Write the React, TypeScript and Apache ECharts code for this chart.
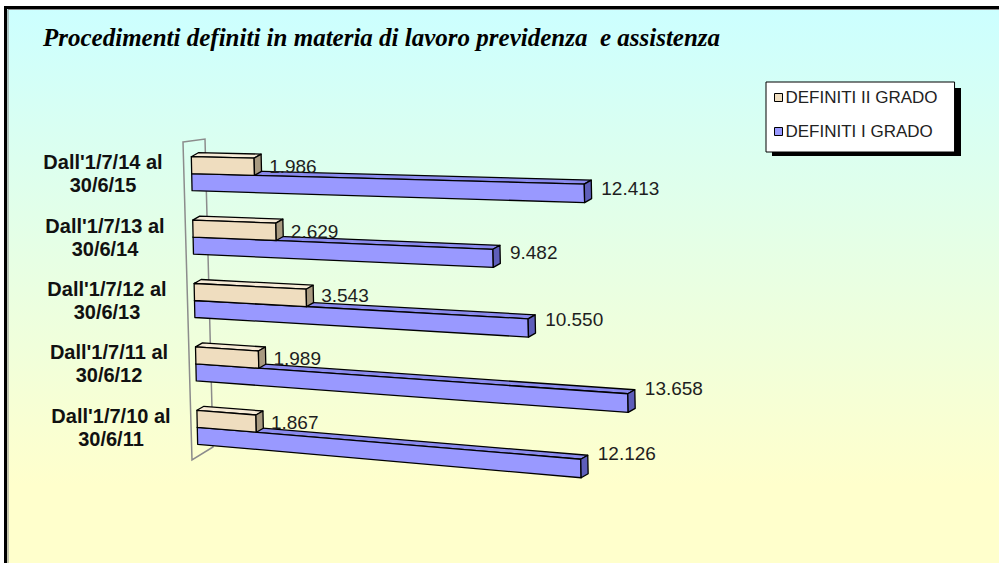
import React, { useEffect, useRef } from "react";
import * as echarts from "echarts";

// Categories from bottom to top
const categories = [
  "Dall'1/7/10 al\n30/6/11",
  "Dall'1/7/11 al\n30/6/12",
  "Dall'1/7/12 al\n30/6/13",
  "Dall'1/7/13 al\n30/6/14",
  "Dall'1/7/14 al\n30/6/15",
];
const seriesNames = ["DEFINITI II GRADO", "DEFINITI I GRADO"];
const definitiIIGrado = [1867, 1989, 3543, 2629, 1986];
const definitiIGrado = [12126, 13658, 10550, 9482, 12413];
const titleText = "Procedimenti definiti in materia di lavoro previdenza  e assistenza";

const SHEAR = 0.022;
const VYOFF = 86;
const PD = 4454;
const DEPTH: [number, number] = [7, -4];

const fmt = (v: number) => String(Math.round(v)).replace(/\B(?=(\d{3})+(?!\d))/g, ".");

function makeT(gx: number, gy: number) {
  return (x: number, y: number): [number, number] => [
    x + SHEAR * (y - gy),
    y + ((y - gy + VYOFF) * (x - gx)) / PD,
  ];
}

function barRenderer(top: number, h: number, colors: { front: string; top: string; side: string }, gap: number, dy: number) {
  return (params: any, api: any) => {
    const v = api.value(0);
    const i = api.value(1);
    const cs = params.coordSys;
    const T = makeT(cs.x, cs.y);
    const [x0, cy] = api.coord([0, i]);
    const [xe] = api.coord([v, i]);
    const y1 = cy + top;
    const y2 = y1 + h;
    const p1 = T(x0, y1);
    const p2 = T(xe, y1);
    const p3 = T(xe, y2);
    const p4 = T(x0, y2);
    const add = (p: [number, number]) => [p[0] + DEPTH[0], p[1] + DEPTH[1]];
    const stroke = { stroke: "#000", lineWidth: 1.3, lineJoin: "round" };
    const leftMid = (p1[1] + p4[1]) / 2;
    const rightMid = (p2[1] + p3[1]) / 2;
    return {
      type: "group",
      children: [
        { type: "polygon", shape: { points: [p1, p2, add(p2), add(p1)] }, style: { fill: colors.top, ...stroke } },
        { type: "polygon", shape: { points: [p1, p2, p3, p4] }, style: { fill: colors.front, ...stroke } },
        { type: "polygon", shape: { points: [p2, add(p2), add(p3), p3] }, style: { fill: colors.side, ...stroke } },
        {
          type: "text",
          style: {
            text: fmt(v),
            x: p2[0] + DEPTH[0] + gap,
            y: (leftMid + rightMid) / 2 + dy,
            fill: "#1e1e1e",
            fontFamily: "Liberation Sans, Arial, sans-serif",
            fontSize: 19,
            align: "left",
            verticalAlign: "middle",
          },
        },
      ],
    };
  };
}

export default function App() {
  const ref = useRef<HTMLDivElement>(null);
  useEffect(() => {
    if (!ref.current) return;
    const chart = echarts.init(ref.current, null, { renderer: "svg" });
    const labelStyle = {
      align: "center",
      fontFamily: "Liberation Sans, Arial, sans-serif",
      fontWeight: "bold",
      fontSize: 20,
      lineHeight: 23,
      color: "#111",
    };
    const option: any = {
      animation: false,
      backgroundColor: "#ffffff",
      title: {
        text: titleText,
        left: 38,
        top: 20,
        textStyle: {
          fontFamily: "Liberation Serif, Times New Roman, serif",
          fontStyle: "italic",
          fontWeight: "bold",
          fontSize: 25,
          color: "#000",
        },
      },
      legend: {
        data: seriesNames,
        orient: "vertical",
        left: 766,
        top: 82,
        padding: [7, 17, 12, 8],
        itemGap: 17,
        itemWidth: 8,
        itemHeight: 8,
        icon: "rect",
        backgroundColor: "#fff",
        borderColor: "#000",
        borderWidth: 1,
        z: 10,
        itemStyle: { borderColor: "#000", borderWidth: 1 },
        textStyle: { fontFamily: "Liberation Sans, Arial, sans-serif", fontSize: 17, color: "#222", padding: [0, 0, 0, -2] },
      },
      graphic: [
        {
          type: "rect",
          z: -10,
          silent: true,
          shape: { x: 7, y: 9, width: 1000, height: 560 },
          style: {
            fill: new echarts.graphic.LinearGradient(0, 0, 0, 1, [
              { offset: 0, color: "#CCFFFF" },
              { offset: 0.85, color: "#FFFFCC" },
              { offset: 1, color: "#FFFFCC" },
            ]),
          },
        },
        {
          type: "rect",
          z: -9,
          silent: true,
          shape: { x: 5.5, y: 7.5, width: 1200, height: 800 },
          style: { fill: "none", stroke: "#000", lineWidth: 3 },
        },
        {
          type: "rect",
          z: -9,
          silent: true,
          shape: { x: 8, y: 9.5, width: 1200, height: 800 },
          style: { fill: "none", stroke: "#8a8a8a", lineWidth: 1 },
        },
        {
          type: "rect",
          z: 5,
          silent: true,
          shape: { x: 772, y: 88, width: 189, height: 68 },
          style: { fill: "#000" },
        },
      ],
      grid: { left: 191, top: 142, width: 506, height: 317, containLabel: false, outerBoundsMode: "none" },
      xAxis: { type: "value", min: 0, max: 16000, show: false },
      yAxis: {
        type: "category",
        data: categories.map((c, i) => ({
          value: c,
          textStyle: { ...labelStyle, padding: [0, 0, 0, (categories.length - 1 - i) * 4] },
        })),
        axisLine: { show: false },
        axisTick: { show: false },
        splitLine: { show: false },
        axisLabel: { ...labelStyle, margin: 88 },
      },
      series: [
        {
          type: "custom",
          name: "wall",
          clip: false,
          silent: true,
          data: [[0, 0]],
          encode: { x: 0, y: 1 },
          renderItem: (params: any) => {
            const cs = params.coordSys;
            const gx = cs.x, gy = cs.y, gh = cs.height;
            return {
              type: "polygon",
              shape: {
                points: [
                  [gx - 8, gy],
                  [gx + 14, gy - 3],
                  [gx + 22, gy + gh - 12],
                  [gx + 1, gy + gh + 1],
                ],
              },
              style: { fill: "none", stroke: "#8c8c8c", lineWidth: 1.5 },
            };
          },
        },
        {
          type: "custom",
          name: seriesNames[1],
          clip: false,
          itemStyle: { color: "#9999FF", borderColor: "#000", borderWidth: 1 },
          data: definitiIGrado.map((v, i) => [v, i]),
          encode: { x: 0, y: 1 },
          renderItem: barRenderer(0, 17, { front: "#9999FF", top: "#8A8AEE", side: "#5E5EBA" }, 10, 1),
        },
        {
          type: "custom",
          name: seriesNames[0],
          clip: false,
          itemStyle: { color: "#F0DEC0", borderColor: "#000", borderWidth: 1 },
          data: definitiIIGrado.map((v, i) => [v, i]),
          encode: { x: 0, y: 1 },
          renderItem: barRenderer(-17, 17, { front: "#EFDDBF", top: "#F6EAD6", side: "#A89A80" }, 8, 1),
        },
      ],
    };
    chart.setOption(option);
    return () => chart.dispose();
  }, []);
  return (
    <div
      ref={ref}
      style={{ position: "fixed", left: 0, top: 0, width: 999, height: 563 }}
    />
  );
}
